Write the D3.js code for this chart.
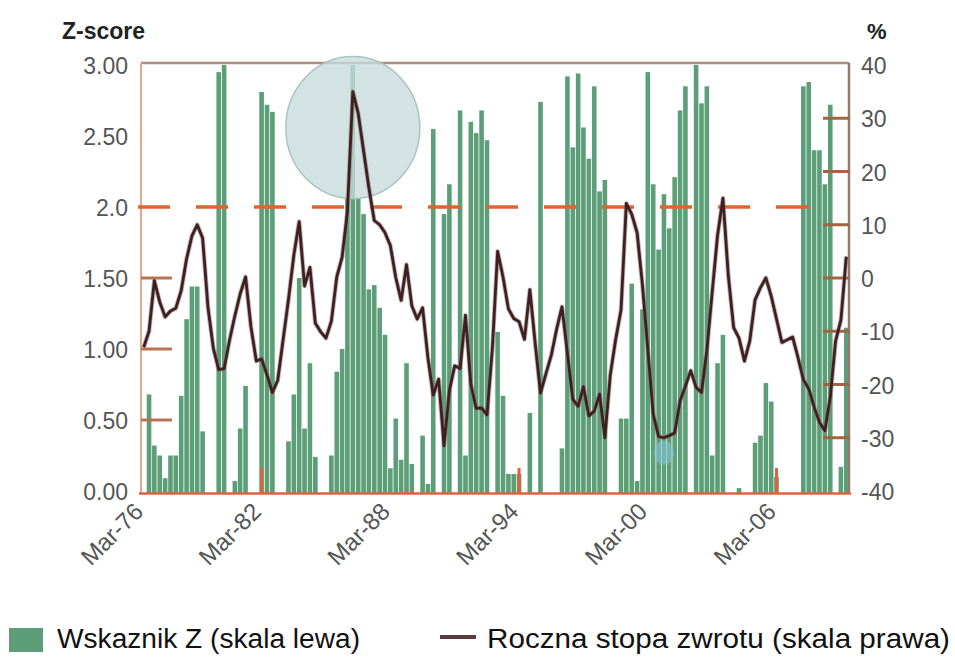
<!DOCTYPE html>
<html>
<head>
<meta charset="utf-8">
<script src="https://cdn.jsdelivr.net/npm/d3@7"></script>
<style>
  body { margin: 0; background: #fff; }
  svg { display: block; }
  text { font-family: "Liberation Sans", Arial, sans-serif; }
</style>
</head>
<body>
<svg id="chart" width="955" height="657"></svg>
<script>
// Quarterly observations, Sep-76 .. Jun-09
const quarters = d3.timeMonth.range(new Date(1976, 8, 1), new Date(2009, 8, 1), 3);

// Z indicator (left scale)
const zScore = [
  0, 0.68, 0.32, 0.25, 0.09, 0.25, 0.25, 0.67, 1.21, 1.44,
  1.44, 0.42, 0, 0, 2.95, 3.0, 0, 0.07, 0.44, 0.74,
  0, 0, 2.81, 2.72, 2.67, 0, 0, 0.35, 0.68, 1.5,
  0.44, 0.9, 0.24, 0, 0, 0.25, 0.84, 1.0, 2.06, 3.0,
  2.06, 1.95, 1.42, 1.45, 1.29, 1.1, 0.16, 0.51, 0.22, 0.9,
  0.19, 0, 0.39, 0.05, 2.55, 0, 1.95, 2.16, 0, 2.68,
  0.25, 2.6, 2.52, 2.68, 2.47, 0, 1.12, 0.67, 0.12, 0.12,
  0.12, 0, 0.55, 0, 2.74, 0, 0, 0, 0.3, 2.92,
  2.42, 2.94, 2.56, 2.34, 2.85, 2.11, 2.19, 0, 0, 0.51,
  0.51, 1.46, 0.07, 1.28, 2.95, 2.16, 1.7, 2.09, 1.85, 2.21,
  2.68, 2.85, 0, 3.0, 2.73, 2.85, 0.25, 0.9, 1.1, 0,
  0, 0.02, 0, 0, 0.34, 0.39, 0.76, 0.63, 0.1, 0,
  0, 0, 0, 2.85, 2.88, 2.4, 2.4, 2.16, 2.72, 0,
  0.17, 1.15
];

// Annual rate of return, % (right scale)
const annualReturn = [
  -13, -10, -0.5, -4.5, -7.3, -6.2, -5.7, -2.4, 3.6, 7.9,
  10, 7.5, -5.6, -13.2, -17.2, -17, -11.7, -7.1, -3, 0.2,
  -9.2, -15.6, -15.2, -18.2, -21.5, -19.2, -11.7, -4.1, 4.3, 10.6,
  -1.5, 2, -8.5, -10.1, -11.3, -8.1, 0.2, 3.9, 12.5, 35,
  30.9, 23.9, 17, 10.8, 10, 8.5, 6.1, 0.1, -4.2, 2.5,
  -5.2, -7.7, -5.6, -15, -22, -19, -31.5, -21.1, -16.5, -17,
  -7, -19.9, -24.5, -24.4, -25.7, -13.4, 5, 0.2, -5.8, -7.6,
  -8.2, -11.5, -2.2, -12.3, -21.6, -18, -14.5, -9.6, -5.4, -14.1,
  -22.8, -24.1, -20.4, -25.9, -25, -21.8, -30, -18.2, -11.5, -6,
  14, 12, 8.5, -1.4, -13.4, -25.6, -29.8, -30, -29.6, -29.1,
  -23.1, -20.3, -17.4, -20.5, -21.5, -13.6, -2.8, 8, 15, 0.5,
  -9.3, -11.3, -15.6, -11.8, -4.1, -1.8, 0, -3.4, -7.7, -12.1,
  -11.6, -11.1, -14.9, -19.1, -20.8, -24.2, -27.1, -28.7, -22.4, -11.8,
  -7.9, 4
];

const leftTicks = [0, 0.5, 1, 1.5, 2, 2.5, 3];
const leftTickLabels = ["0.00", "0.50", "1.00", "1.50", "2.0", "2.50", "3.00"];
const rightTicks = [-40, -30, -20, -10, 0, 10, 20, 30, 40];
const xTickLabels = ["Mar-76", "Mar-82", "Mar-88", "Mar-94", "Mar-00", "Mar-06"];
const xMarkedTicks = ["Mar-82", "Mar-94", "Mar-06"];
const threshold = 2.0;

const legendLabels = ["Wskaznik Z (skala lewa)", "Roczna stopa zwrotu (skala prawa)"];

const colors = {
  bar: "#5c9e77",
  line: "#3f1f20",
  halo: "#8a7878",
  dash: "#e0642c",
  frameTop: "#ad8f80",
  frameLeft: "#e3a98a",
  frameRight: "#8f7b6c",
  base: "#e2603c",
  tickL: "#b87450",
  tickR: "#a0643e",
  text: "#555555"
};

const plot = { left: 141, right: 849, top: 63, bottom: 494 };
const svg = d3.select("#chart");

const x = d3.scaleTime()
  .domain([d3.timeDay.offset(quarters[0], -46), d3.timeDay.offset(quarters[quarters.length - 1], 46)])
  .range([plot.left, plot.right]);
const yL = d3.scaleLinear().domain([0, 3]).range([491, 65]);
const yR = d3.scaleLinear().domain([-40, 40]).range([491, 65]);
const parseTick = d3.timeParse("%b-%y");

const rows = quarters.map((d, i) => ({ date: d, z: zScore[i], r: annualReturn[i] }));
const step = x(quarters[1]) - x(quarters[0]);
const barW = step * 0.86;

svg.append("clipPath").attr("id", "plotClip")
  .append("rect")
  .attr("x", plot.left).attr("y", plot.top)
  .attr("width", plot.right - plot.left).attr("height", plot.bottom - plot.top);

// Z indicator bars
svg.append("g").attr("clip-path", "url(#plotClip)")
  .selectAll("rect")
  .data(rows.filter(d => d.z > 0))
  .join("rect")
  .attr("x", d => x(d.date) - barW / 2)
  .attr("y", d => yL(d.z))
  .attr("width", barW)
  .attr("height", d => plot.bottom - yL(d.z))
  .attr("fill", colors.bar);

// Frame
const frame = svg.append("g");
frame.append("line").attr("x1", plot.left).attr("x2", plot.right)
  .attr("y1", plot.top).attr("y2", plot.top)
  .attr("stroke", colors.frameTop).attr("stroke-width", 2.5);
frame.append("line").attr("x1", plot.left).attr("x2", plot.left)
  .attr("y1", plot.top).attr("y2", plot.bottom)
  .attr("stroke", colors.frameLeft).attr("stroke-width", 2);
frame.append("line").attr("x1", plot.right).attr("x2", plot.right)
  .attr("y1", plot.top).attr("y2", plot.bottom)
  .attr("stroke", colors.frameRight).attr("stroke-width", 2.5);
frame.append("line").attr("x1", plot.left - 2).attr("x2", plot.right + 2)
  .attr("y1", plot.bottom - 0.5).attr("y2", plot.bottom - 0.5)
  .attr("stroke", colors.base).attr("stroke-width", 2.5);

// Inner tick marks, left scale
frame.selectAll(".tl")
  .data(leftTicks.filter(v => v > 0 && v < 2))
  .join("line")
  .attr("x1", plot.left).attr("x2", plot.left + 31)
  .attr("y1", d => yL(d)).attr("y2", d => yL(d))
  .attr("stroke", colors.tickL).attr("stroke-width", 3);

// Inner tick marks, right scale
frame.selectAll(".tr")
  .data(rightTicks.filter(v => v > -40 && v < 40))
  .join("line")
  .attr("x1", plot.right - 26).attr("x2", plot.right)
  .attr("y1", d => yR(d)).attr("y2", d => yR(d))
  .attr("stroke", colors.tickR).attr("stroke-width", 3);

// Inner tick marks on the time axis
frame.selectAll(".tx")
  .data(xMarkedTicks.map(parseTick))
  .join("line")
  .attr("x1", d => x(d)).attr("x2", d => x(d))
  .attr("y1", plot.bottom).attr("y2", plot.bottom - 26)
  .attr("stroke", colors.base).attr("stroke-width", 3);

// Threshold Z = 2.0
svg.append("line")
  .attr("x1", plot.left - 3).attr("x2", plot.right - 41)
  .attr("y1", yL(threshold)).attr("y2", yL(threshold))
  .attr("stroke", colors.dash).attr("stroke-width", 3.5)
  .attr("stroke-dasharray", "32 26");

// Highlight of the return peak
const peakIdx = d3.maxIndex(annualReturn);
svg.append("ellipse")
  .attr("cx", x(quarters[peakIdx]))
  .attr("cy", yR(annualReturn[peakIdx]) + 36)
  .attr("rx", 67).attr("ry", 71)
  .attr("fill", "#c6dbdb").attr("fill-opacity", 0.78)
  .attr("stroke", "#a9c3c3").attr("stroke-width", 1.5);

// Small marker at the 2001-2002 trough
const lateTrough = 90 + d3.minIndex(annualReturn.slice(90, 110));
svg.append("ellipse")
  .attr("cx", x(quarters[lateTrough]))
  .attr("cy", yR(annualReturn[lateTrough]) + 15)
  .attr("rx", 10).attr("ry", 12)
  .attr("fill", "#84c4d8").attr("fill-opacity", 0.6);

// Annual return line (soft halo under a dark stroke)
const linePath = d3.line().x(d => x(d.date)).y(d => yR(d.r));
svg.append("path")
  .datum(rows)
  .attr("fill", "none")
  .attr("stroke", colors.halo)
  .attr("stroke-opacity", 0.55)
  .attr("stroke-width", 4.6)
  .attr("stroke-linejoin", "round")
  .attr("d", linePath);
svg.append("path")
  .datum(rows)
  .attr("fill", "none")
  .attr("stroke", colors.line)
  .attr("stroke-width", 2.8)
  .attr("stroke-linejoin", "round")
  .attr("d", linePath);

// Left scale labels
svg.append("g").selectAll("text")
  .data(leftTicks)
  .join("text")
  .attr("x", 128).attr("y", d => yL(d) + 1)
  .attr("text-anchor", "end").attr("dominant-baseline", "central")
  .attr("font-size", 23).attr("fill", colors.text)
  .text((d, i) => leftTickLabels[i]);

// Right scale labels
svg.append("g").selectAll("text")
  .data(rightTicks)
  .join("text")
  .attr("x", 861).attr("y", d => yR(d) + 1)
  .attr("text-anchor", "start").attr("dominant-baseline", "central")
  .attr("font-size", 23).attr("fill", colors.text)
  .text(d => d);

// Axis titles
svg.append("text").attr("x", 62).attr("y", 39)
  .attr("font-size", 23).attr("font-weight", "bold").attr("fill", "#222")
  .text("Z-score");
svg.append("text").attr("x", 867).attr("y", 39)
  .attr("font-size", 22).attr("font-weight", "bold").attr("fill", "#222")
  .text("%");

// Time axis labels (kept inside the plot span)
const firstX = x(quarters[0]);
svg.append("g").selectAll("text")
  .data(xTickLabels)
  .join("text")
  .attr("transform", d => {
    const px = Math.max(x(parseTick(d)), firstX);
    return `translate(${px + 1},${plot.bottom + 19}) rotate(-45)`;
  })
  .attr("text-anchor", "end")
  .attr("font-size", 24).attr("fill", colors.text)
  .text(d => d);

// Legend
const legend = svg.append("g");
legend.append("rect").attr("x", 9).attr("y", 628).attr("width", 34).attr("height", 24)
  .attr("fill", colors.bar);
legend.append("text").attr("x", 57).attr("y", 648)
  .attr("font-size", 27).attr("fill", "#111")
  .attr("textLength", 303).attr("lengthAdjust", "spacingAndGlyphs")
  .text(legendLabels[0]);
legend.append("line").attr("x1", 440).attr("x2", 476).attr("y1", 637).attr("y2", 637)
  .attr("stroke", "#5a3a3a").attr("stroke-width", 4);
legend.append("text").attr("x", 487).attr("y", 648)
  .attr("font-size", 27).attr("fill", "#111")
  .attr("textLength", 463).attr("lengthAdjust", "spacingAndGlyphs")
  .text(legendLabels[1]);
</script>
</body>
</html>
